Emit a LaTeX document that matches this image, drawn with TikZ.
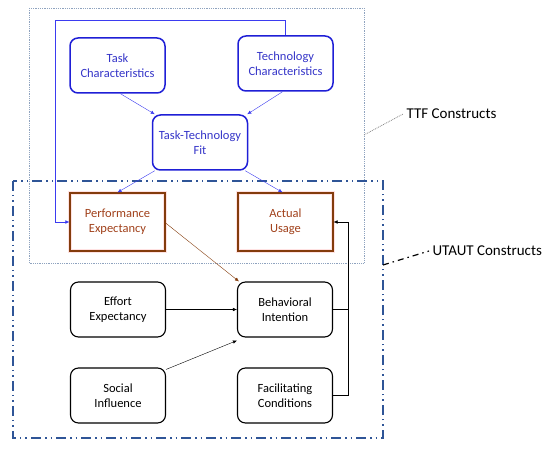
\documentclass[tikz,border=0pt]{standalone}
\usepackage{fontspec}
\setmainfont{Carlito}
\usetikzlibrary{arrows.meta}

\begin{document}
\begin{tikzpicture}[
  x=1pt, y=-1pt,
  font=\fontsize{12.5}{15}\selectfont,
  rbox/.style={draw, rounded corners=8pt, align=center,
               minimum width=95pt, minimum height=55pt, inner sep=2pt},
  ttf/.style={rbox, draw=ttfblue, text=ttftext, line width=1.5pt},
  utaut/.style={rbox, draw=black, line width=1.1pt},
  sharp/.style={draw=ppbrown, text=pptext, line width=1.2pt, align=center,
                minimum width=95pt, minimum height=58pt, inner sep=2pt,
                preaction={draw=pink!45, line width=4pt}},
  lbl/.style={font=\fontsize{15}{18}\selectfont, anchor=west},
  >={Latex[length=4pt, width=3.5pt]}
]
  \definecolor{ttfblue}{HTML}{1F1FD6}
  \definecolor{ttftext}{HTML}{3535C8}
  \definecolor{arrblue}{HTML}{3B3BF0}
  \definecolor{ppbrown}{HTML}{843C0C}
  \definecolor{pptext}{HTML}{A0401A}
  \definecolor{utblue}{HTML}{2F5597}
  \definecolor{ttfgrey}{HTML}{8FA3BF}

  \useasboundingbox (0,0) rectangle (550,449);

  % ================= GROUP FRAMES =================
  \draw[ttfgrey, densely dotted, line width=0.8pt] (29,8) rectangle (364,263);
  \draw[utblue, dash pattern=on 10pt off 4pt on 1.5pt off 4pt on 1.5pt off 4pt,
        line width=1.6pt] (13,181) rectangle (383,438);

  % ================= TTF CONSTRUCTS =================
  \node[ttf] (task) at (117.5,65.5) {Task\\Characteristics};
  \node[ttf] (tech) at (285.5,63.5) {Technology\\Characteristics};
  \node[ttf] (fit)  at (200,142.5)  {Task-Technology\\Fit};

  % ================= UTAUT CONSTRUCTS =================
  \node[sharp] (perf)   at (117.5,222) {Performance\\Expectancy};
  \node[sharp] (usage)  at (285.5,222) {Actual\\Usage};
  \node[utaut] (effort) at (118,309.5) {Effort\\Expectancy};
  \node[utaut] (intent) at (285,309.5) {Behavioral\\Intention};
  \node[utaut] (social) at (118,395.5) {Social\\Influence};
  \node[utaut] (facil)  at (285,395.5) {Facilitating\\Conditions};

  % ================= CONNECTORS =================
  \draw[->, arrblue, thin] ([xshift=3pt]task.south) -- ([xshift=3pt]fit.north west);
  \draw[->, arrblue, thin] ([xshift=-3pt]tech.south) -- ([xshift=-1pt]fit.north east);
  \draw[->, arrblue, thin] ([xshift=3pt]fit.south west) -- (perf.north);
  \draw[->, arrblue, thin] ([xshift=-3pt]fit.south east) -- ([xshift=-3pt]usage.north);
  \draw[->, arrblue, thin] (tech.north) -- ++(0,-15) -| (55,222) -- (perf.west);

  \draw[->, ppbrown, thin] ([yshift=-1pt]perf.east) -- ([xshift=2pt]intent.north west);
  \draw[->, thin] (effort.east) -- (intent.west);
  \draw[->, thin] ([yshift=-2pt]social.north east) -- ([yshift=-3pt]intent.south west);
  \draw[thin] (intent.east) -- (348,309.5);
  \draw[->, thin] (facil.east) -- (348,395.5) |- (usage.east);

  % ================= GROUP LABELS =================
  \node[lbl] (ttflbl) at (403,114) {TTF Constructs};
  \node[lbl] (utlbl)  at (429,251) {UTAUT Constructs};
  \draw[gray, densely dotted, line width=0.8pt] (364,135) -- (ttflbl.west);
  \draw[black, dash pattern=on 6pt off 4pt on 1.5pt off 4pt, line width=1.2pt]
    (383,265) -- (utlbl.west);
\end{tikzpicture}
\end{document}
